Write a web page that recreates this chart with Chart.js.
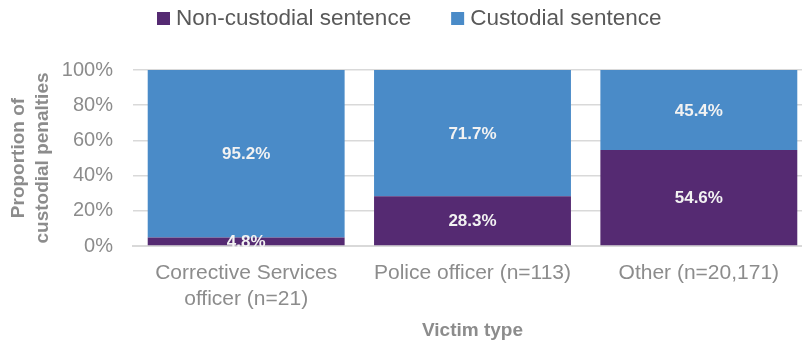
<!DOCTYPE html>
<html>
<head>
<meta charset="utf-8">
<script src="https://cdn.jsdelivr.net/npm/chart.js@4/dist/chart.umd.min.js"></script>
<style>
  html, body { margin: 0; padding: 0; background: #fff; overflow: hidden; }
  #wrap { width: 812px; height: 343px; position: relative; }
</style>
</head>
<body>
<div id="wrap"><canvas id="c"></canvas></div>
<script>
// Share of penalties by sentence type, per victim type (percent)
const categories = [["Corrective Services", "officer (n=21)"], "Police officer (n=113)", "Other (n=20,171)"];
const nonCustodial = [4.8, 28.3, 54.6];
const custodial = [95.2, 71.7, 45.4];
const yTicks = [0, 20, 40, 60, 80, 100];

const FONT = "'Liberation Sans', Arial, sans-serif";
const PURPLE = '#552a72';
const BLUE = '#4a8bc8';

// Value labels centred inside each stacked segment
const segmentLabels = {
  id: 'segmentLabels',
  afterDatasetsDraw(chart) {
    const ctx = chart.ctx;
    ctx.save();
    ctx.font = 'bold 17px ' + FONT;
    ctx.fillStyle = '#f2f2f2';
    ctx.textAlign = 'center';
    ctx.textBaseline = 'middle';
    chart.data.datasets.forEach((ds, di) => {
      chart.getDatasetMeta(di).data.forEach((bar, i) => {
        const mid = (bar.y + bar.base) / 2;
        ctx.fillText(ds.data[i].toFixed(1) + '%', bar.x, mid + 1);
      });
    });
    ctx.restore();
  }
};

// Legend row: small square swatch followed by the series name
const topLegend = {
  id: 'topLegend',
  afterDraw(chart) {
    const ctx = chart.ctx;
    ctx.save();
    ctx.font = '22.5px ' + FONT;
    ctx.textBaseline = 'middle';
    ctx.textAlign = 'left';
    let x = 157;
    const y = 19;
    chart.data.datasets.forEach(ds => {
      ctx.fillStyle = ds.backgroundColor;
      ctx.fillRect(x, y - 7, 13, 13);
      x += 19;
      ctx.fillStyle = '#595959';
      ctx.fillText(ds.label, x, y);
      x += ctx.measureText(ds.label).width + 40;
    });
    ctx.restore();
  }
};

new Chart(document.getElementById('c'), {
  type: 'bar',
  data: {
    labels: categories,
    datasets: [
      { label: 'Non-custodial sentence', data: nonCustodial, backgroundColor: PURPLE },
      { label: 'Custodial sentence', data: custodial, backgroundColor: BLUE }
    ]
  },
  options: {
    responsive: true,
    maintainAspectRatio: false,
    animation: false,
    layout: { padding: { top: 70, right: 0, bottom: 0, left: 0 } },
    categoryPercentage: 0.87,
    barPercentage: 1.0,
    plugins: {
      tooltip: { enabled: false },
      legend: { display: false }
    },
    scales: {
      x: {
        stacked: true,
        grid: { display: false },
        border: { color: '#d9d9d9', width: 2 },
        afterFit(scale) { scale.height = 97; },
        ticks: {
          color: '#8c8c8c',
          font: { family: FONT, size: 21, lineHeight: 1.2 },
          padding: 7,
          maxRotation: 0
        },
        title: {
          display: true,
          text: 'Victim type',
          color: '#8c8c8c',
          font: { family: FONT, size: 19, weight: 'bold' },
          padding: { top: 0, bottom: 1 }
        }
      },
      y: {
        stacked: true,
        min: 0,
        max: 100,
        afterBuildTicks(scale) { scale.ticks = yTicks.map(v => ({ value: v })); },
        afterFit(scale) { scale.width = 133; },
        grid: { color: '#d9d9d9', lineWidth: 1.5, drawTicks: false },
        border: { display: false },
        ticks: {
          color: '#8c8c8c',
          font: { family: FONT, size: 20 },
          padding: 20,
          callback: v => v + '%'
        },
        title: {
          display: true,
          text: ['Proportion of', 'custodial penalties'],
          color: '#8c8c8c',
          font: { family: FONT, size: 19, weight: 'bold', lineHeight: 1.3 },
          padding: { top: 6, bottom: 0 }
        }
      }
    }
  },
  plugins: [segmentLabels, topLegend]
});
</script>
</body>
</html>
